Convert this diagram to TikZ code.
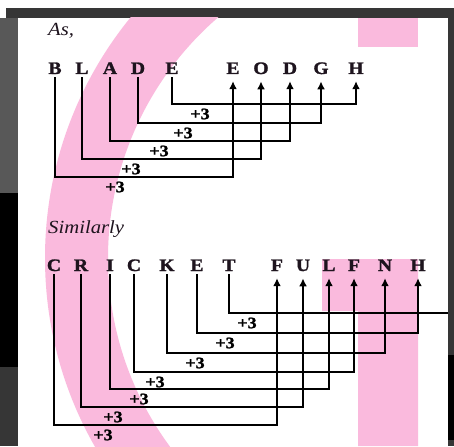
\documentclass[tikz,border=0pt]{standalone}
\usepackage{fontspec}
\setmainfont[FakeStretch=1.12,BoldFeatures={FakeBold=1.5}]{Liberation Serif}
\usepackage{tikz}
\usetikzlibrary{arrows.meta,calc,positioning}
\definecolor{pinkband}{RGB}{250,186,221}
\definecolor{framegray}{RGB}{54,54,54}
\definecolor{sidegray}{RGB}{88,88,88}
\definecolor{inkdark}{RGB}{30,20,30}
\tikzset{every picture/.style={
  >={Latex[length=8pt,width=8pt]}   % filled arrow heads.
  }
}

\begin{document}
\begin{tikzpicture}[
    x=1pt,y=-1pt,
    lt/.style={
      font=\fontsize{17.5}{17.5}\selectfont\bfseries,
      text=inkdark,
      inner xsep=0pt,
      inner ysep=3pt,
      anchor=base
    },
    tg/.style={lt,inner ysep=7pt},
    pl/.style={
      font=\fontsize{16}{16}\selectfont\bfseries,
      inner sep=0pt
    },
    hd/.style={
      font=\fontsize{18.5}{18.5}\selectfont\itshape,
      text=inkdark,
      inner sep=0pt,
      anchor=base west
    },
    ln/.style={line width=2.2pt}
  ]
  \useasboundingbox (0,0) rectangle (454,446);

  % Screen frame round the page.
  \fill[white] (0,0) rectangle (454,446);
  \fill[framegray] (6,8) rectangle (454,18);
  \fill[sidegray] (0,18) rectangle (18,193);
  \fill[black] (0,193) rectangle (18,367);
  \fill[framegray] (0,367) rectangle (18,446);
  \fill[framegray] (448,18) rectangle (454,446);
  \fill[black] (448,355) rectangle (454,440);

  % Pink shapes behind the text.
  \begin{scope}
    \clip (18,18) rectangle (448,446);
    \fill[pinkband,even odd rule] (426,258) circle[radius=381]
      (426,258) circle[radius=318];
    \fill[pinkband] (358,18) rectangle (418,47);
    \fill[pinkband] (322,259) -- (418,259) -- (418,446) -- (358,446)
      -- (358,311) -- (322,311) -- cycle;
  \end{scope}

  % First example.
  \node[hd] (as) at (48,36) {As,};
  \node[lt] (a1) at (55,74) {B};
  \node[lt] (a2) at (82,74) {L};
  \node[lt] (a3) at (110,74) {A};
  \node[lt] (a4) at (138,74) {D};
  \node[lt] (a5) at (172,74) {E};
  \node[tg] (b1) at (233,74) {E};
  \node[tg] (b2) at (261,74) {O};
  \node[tg] (b3) at (290,74) {D};
  \node[tg] (b4) at (321,74) {G};
  \node[tg] (b5) at (356,74) {H};

  \foreach \s/\lv/\lx in {1/177/115,2/159/131,3/141/159,4/123/183,5/104/200} {
    \draw[ln,->] (a\s.south) -- (a\s.south |- 0,\lv) -| (b\s.south);
    \node[pl,yshift=-10pt] (p\s) at (\lx,\lv) {+3};
  }

  % Second example.
  \node[hd] (sim) at (48,233) {Similarly};
  \node[lt] (c1) at (54,271) {C};
  \node[lt] (c2) at (81,271) {R};
  \node[lt] (c3) at (110,271) {I};
  \node[lt] (c4) at (134,271) {C};
  \node[lt] (c5) at (167,271) {K};
  \node[lt] (c6) at (197,271) {E};
  \node[lt] (c7) at (229,271) {T};
  \node[tg] (d1) at (277,271) {F};
  \node[tg] (d2) at (303,271) {U};
  \node[tg] (d3) at (329,271) {L};
  \node[tg] (d4) at (354,271) {F};
  \node[tg] (d5) at (385,271) {N};
  \node[tg] (d6) at (418,271) {H};
  \coordinate (rim) at (448,313);

  \foreach \s/\lv/\lx in {1/425/103,2/407/113,3/389/139,4/372/155,5/353/195,6/333/225} {
    \draw[ln,->] (c\s.south) -- (c\s.south |- 0,\lv) -| (d\s.south);
    \node[pl,yshift=-10pt] (q\s) at (\lx,\lv) {+3};
  }
  \draw[ln] (c7.south) |- (rim);
  \node[pl,yshift=-10pt] (q7) at (247,313) {+3};
\end{tikzpicture}
\end{document}
